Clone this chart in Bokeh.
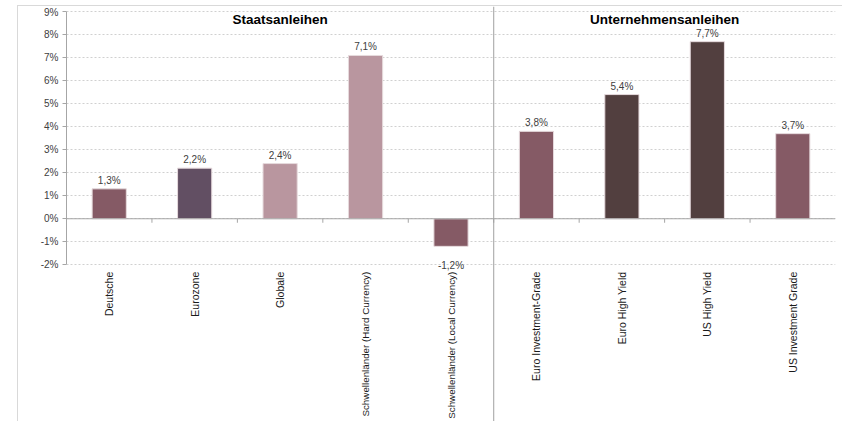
from math import pi
from bokeh.plotting import figure
from bokeh.models import ColumnDataSource, FactorRange, Range1d, FixedTicker, Span, PrintfTickFormatter
from bokeh.core.properties import value
from bokeh.embed import file_html
from bokeh.resources import INLINE

# ---- data ----
categories = [
    "Deutsche",
    "Eurozone",
    "Globale",
    "Schwellenländer (Hard Currency)",
    "Schwellenländer (Local Currency)",
    "Euro Investment-Grade",
    "Euro High Yield",
    "US High Yield",
    "US Investment Grade",
]
returns = [1.3, 2.2, 2.4, 7.1, -1.2, 3.8, 5.4, 7.7, 3.7]
group_names = ["Staatsanleihen", "Unternehmensanleihen"]
group_sizes = [5, 4]
y_ticks = [-2, -1, 0, 1, 2, 3, 4, 5, 6, 7, 8, 9]

# ---- styles ----
bar_colors = ["#855A65", "#624F63", "#B9969F", "#B9969F", "#855A65",
              "#855A65", "#523F3F", "#523F3F", "#855A65"]
FONT = "Liberation Sans"
GRAY = "#A6A6A6"

y_top = 9.23
y_bottom = -8.86

p = figure(
    x_range=FactorRange(factors=categories, range_padding=0),
    y_range=Range1d(y_bottom, y_top),
    width=825, height=416,
    x_axis_location=None, y_axis_location="left",
    output_backend="svg", toolbar_location=None,
    min_border_left=48, min_border_right=8, min_border_top=0, min_border_bottom=0,
)
p.styles = {
    "margin-left": "17px",
    "margin-top": "5px",
    "border-left": "1px solid #D9D9D9",
    "border-top": "1px solid #D9D9D9",
}
p.outline_line_color = None
p.background_fill_color = "white"
p.border_fill_color = "white"

# y axis
yax = p.yaxis[0]
yax.ticker = FixedTicker(ticks=y_ticks)
yax.bounds = (min(y_ticks), max(y_ticks))
yax.formatter = PrintfTickFormatter(format="%d%%")
yax.axis_line_color = GRAY
yax.major_tick_line_color = GRAY
yax.major_tick_out = 4
yax.major_tick_in = 0
yax.minor_tick_line_color = None
yax.major_label_text_font = FONT
yax.major_label_text_font_size = "10px"
yax.major_label_text_color = "#404040"
yax.major_label_standoff = 4

p.ygrid.ticker = FixedTicker(ticks=y_ticks)
p.ygrid.grid_line_color = "#D0D0D0"
p.ygrid.grid_line_dash = "2 2"
p.ygrid.grid_line_width = 1
p.xgrid.visible = False

# zero line and group separator
p.add_layout(Span(location=0, dimension="width", line_color=GRAY, line_width=1))
sep = group_sizes[0]
p.add_layout(Span(location=sep, dimension="height", line_color="#A0A0A0", line_width=1))

# small ticks on zero line at category boundaries
bounds = list(range(1, len(categories)))
p.ray(x=bounds, y=[0] * len(bounds), length=4, length_units="screen",
      angle=-pi / 2, line_color=GRAY, line_width=1)

# bars
src = ColumnDataSource(dict(cat=categories, val=returns, color=bar_colors))
p.vbar(x="cat", top="val", bottom=0, width=0.4, source=src,
       fill_color="color", line_color="#E6DADD", line_width=1)

# value labels
def fmt(v):
    return f"{v:.1f}".replace(".", ",") + "%"

pos = [(c, v) for c, v in zip(categories, returns) if v >= 0]
neg = [(c, v) for c, v in zip(categories, returns) if v < 0]
p.text(x=[c for c, _ in pos], y=[v for _, v in pos], text=[fmt(v) for _, v in pos],
       text_align="center", text_baseline="bottom", y_offset=-3,
       text_font=value(FONT), text_font_size="10px", text_color="#404040")
p.text(x=[c for c, _ in neg], y=[v for _, v in neg], text=[fmt(v) for _, v in neg],
       text_align="center", text_baseline="top", y_offset=14,
       text_font=value(FONT), text_font_size="10px", text_color="#404040")

# category labels (rotated, below the -2% line); long ones a touch smaller so they fit
label_sizes = ["10.5px" if len(c) < 25 else "9.8px" for c in categories]
lab_src = ColumnDataSource(dict(cat=categories, y=[min(y_ticks)] * len(categories),
                                size=label_sizes))
p.text(x="cat", y="y", text="cat", source=lab_src,
       angle=pi / 2, text_align="right", text_baseline="middle", y_offset=7,
       text_font=value(FONT), text_font_size="size", text_color="#1A1A1A")

# group titles centred over their groups
centers = []
start = 0
for n in group_sizes:
    centers.append(start + n / 2)
    start += n
p.text(x=centers, y=[8.65] * len(centers), text=group_names,
       text_align="center", text_baseline="middle",
       text_font=value(FONT), text_font_size="13.5px", text_font_style="bold",
       text_color="#000000")

open("out.html", "w").write(file_html(p, INLINE))
